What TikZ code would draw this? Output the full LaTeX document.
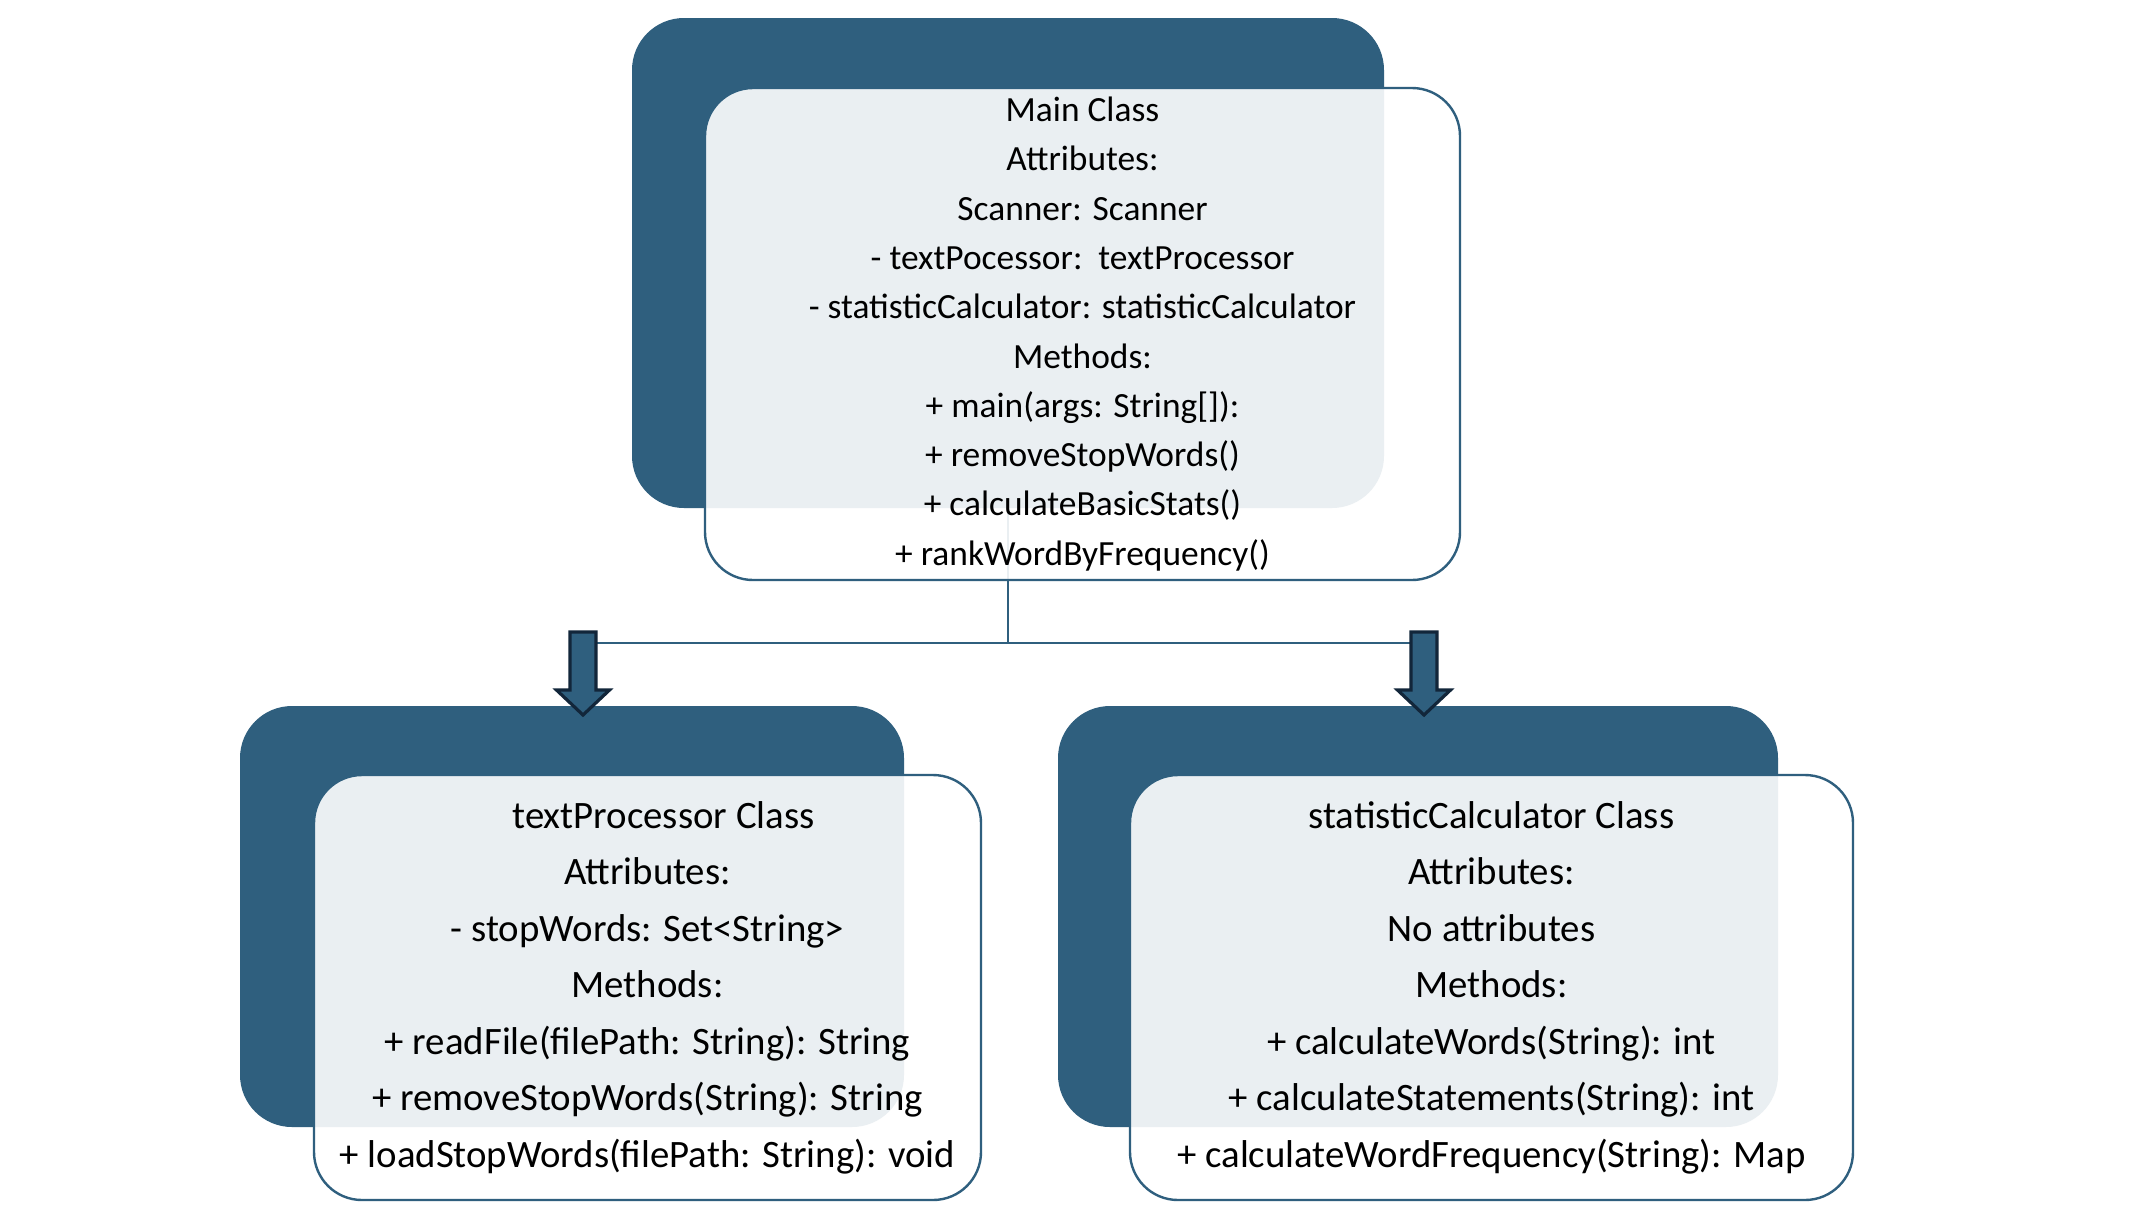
\documentclass[tikz,border=0pt]{standalone}
\usepackage{fontspec}
\setmainfont{Carlito}
\definecolor{slate}{HTML}{2F5F7E}
\definecolor{navy}{HTML}{12263A}

\begin{document}
\begin{tikzpicture}[x=0.5pt,y=-0.5pt,
		backbox/.style={rectangle,rounded corners=26pt,fill=slate,inner sep=0pt},
		classbox/.style={rectangle,rounded corners=24pt,draw=slate,line width=1.2pt,fill=white,
		fill opacity=0.9,text opacity=1,align=center,inner sep=0pt},
		maintext/.style={font=\fontsize{17.7}{24.65}\selectfont},
		subtext/.style={font=\fontsize{19.4}{28.25}\selectfont},
		downarrow/.style={draw=navy,fill=slate,line width=1.6pt,line join=miter},
		blockarrow/.pic={\draw[downarrow] (-13,-41.5) -- (13,-41.5) -- (13,16.5) -- (26.5,16.5)
			-- (0,41.5) -- (-26.5,16.5) -- (-13,16.5) -- cycle;},
		link/.style={draw=slate,line width=1.2pt}
		]
		
		\fill[white] (0,0) rectangle (2138,1212);
		\useasboundingbox (0,0) rectangle (2138,1212);
		
		\node[backbox, minimum width=376pt, minimum height=245pt](D0) at (1008,263){};
		\node[backbox, minimum width=332pt, minimum height=210.5pt](D1) at (572,916.5){};
		\node[backbox, minimum width=360pt, minimum height=210.5pt](D2) at (1418,916.5){};
		
		\coordinate (J) at (1008,643);
		\coordinate (A1) at (583,673.5);
		\coordinate (A2) at (1424,673.5);
		\draw[link] (D0.south) -- (J);
		\draw[link] (A1 |- J) -- (A2 |- J);
		
		\node[classbox, maintext, minimum width=377.5pt, minimum height=246pt](C0) at (1082.5,334){Main Class\\
			Attributes:\\
			Scanner: Scanner\\
			- textPocessor:\ \ textProcessor\\
			- statisticCalculator: statisticCalculator\\
			Methods:\\
			+ main(args: String[]):\\
			+ removeStopWords()\\
			+ calculateBasicStats()\\
			+ rankWordByFrequency()};
		\node[classbox, subtext, minimum width=333.5pt, minimum height=212.5pt](C1) at (647.5,987.5){\hspace*{16pt}textProcessor Class\\
			Attributes:\\
			- stopWords: Set<String>\\
			Methods:\\
			+ readFile(filePath: String): String\\
			+ removeStopWords(String): String\\
			+ loadStopWords(filePath: String): void};
		\node[classbox, subtext, minimum width=361.5pt, minimum height=212.5pt](C2) at (1491.5,987.5){statisticCalculator Class\\
			Attributes:\\
			No attributes\\
			Methods:\\
			+ calculateWords(String): int\\
			+ calculateStatements(String): int\\
			+ calculateWordFrequency(String): Map};
		
		% block arrows over the connector
		\pic at (A1) {blockarrow};
		\pic at (A2) {blockarrow};
		
	\end{tikzpicture}
\end{document}
